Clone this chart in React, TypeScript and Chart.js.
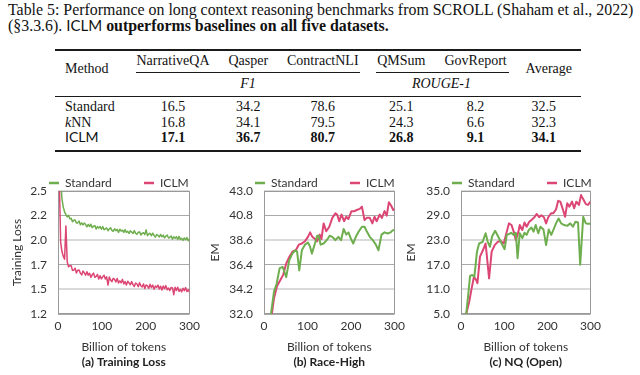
import React, { useEffect, useRef } from 'react';
import { Chart, registerables } from 'chart.js';

Chart.register(...registerables);

// ---------- Table data ----------
const TABLE_COLUMNS = ['NarrativeQA', 'Qasper', 'ContractNLI', 'QMSum', 'GovReport'];
const TABLE_METHODS = ['Standard', 'kNN', 'ICLM'];
const TABLE_STANDARD = [16.5, 34.2, 78.6, 25.1, 8.2, 32.5];
const TABLE_KNN = [16.8, 34.1, 79.5, 24.3, 6.6, 32.3];
const TABLE_ICLM = [17.1, 36.7, 80.7, 26.8, 9.1, 34.1];

// ---------- Chart data ----------
const SERIES_NAMES = ['Standard', 'ICLM'];

const LOSS_X = [
  3, 6, 9, 12, 15, 18, 21, 24, 27, 30,
  33, 36, 39, 42, 45, 48, 51, 54, 57, 60,
  63, 66, 69, 72, 75, 78, 81, 84, 87, 90,
  93, 96, 99, 102, 105, 108, 111, 114, 117, 120,
  123, 126, 129, 132, 135, 138, 141, 144, 147, 150,
  153, 156, 159, 162, 165, 168, 171, 174, 177, 180,
  183, 186, 189, 192, 195, 198, 201, 204, 207, 210,
  213, 216, 219, 222, 225, 228, 231, 234, 237, 240,
  243, 246, 249, 252, 255, 258, 261, 264, 267, 270,
  273, 276, 279, 282, 285, 288, 291, 294, 297, 300,
];
const LOSS_STANDARD = [
  2.95, 2.62, 2.42, 2.33, 2.28, 2.25, 2.226, 2.243, 2.206, 2.211,
  2.174, 2.191, 2.194, 2.161, 2.163, 2.182, 2.144, 2.163, 2.142, 2.161,
  2.145, 2.122, 2.146, 2.124, 2.149, 2.113, 2.128, 2.134, 2.098, 2.123,
  2.108, 2.124, 2.096, 2.125, 2.09, 2.101, 2.109, 2.08, 2.1, 2.111,
  2.084, 2.074, 2.101, 2.081, 2.094, 2.063, 2.096, 2.077, 2.085, 2.063,
  2.092, 2.062, 2.074, 2.052, 2.079, 2.067, 2.051, 2.081, 2.053, 2.043,
  2.064, 2.068, 2.034, 2.054, 2.059, 2.039, 2.089, 2.028, 2.047, 2.053,
  2.027, 2.054, 2.03, 2.013, 2.04, 2.031, 2.014, 2.041, 2.016, 2.034,
  2.004, 2.023, 2.035, 2.003, 2.01, 2.025, 1.991, 2.016, 2.0, 2.017,
  1.987, 2.02, 1.989, 2.0, 1.978, 2.004, 1.985, 2.007, 1.975, 1.993,
];
const LOSS_ICLM = [
  2.62, 1.96, 1.86, 1.81, 1.78, 2.13, 1.754, 1.7, 1.709, 1.711,
  1.661, 1.663, 1.684, 1.633, 1.662, 1.665, 1.632, 1.613, 1.654, 1.634,
  1.61, 1.647, 1.611, 1.63, 1.588, 1.614, 1.632, 1.588, 1.597, 1.618,
  1.57, 1.605, 1.571, 1.592, 1.61, 1.57, 1.592, 1.506, 1.591, 1.56,
  1.542, 1.577, 1.566, 1.539, 1.575, 1.528, 1.55, 1.53, 1.566, 1.518,
  1.543, 1.506, 1.547, 1.527, 1.509, 1.542, 1.51, 1.49, 1.528, 1.517,
  1.489, 1.531, 1.498, 1.485, 1.518, 1.469, 1.507, 1.497, 1.472, 1.515,
  1.48, 1.506, 1.463, 1.495, 1.482, 1.505, 1.464, 1.494, 1.453, 1.496,
  1.468, 1.5, 1.456, 1.475, 1.448, 1.481, 1.475, 1.404, 1.482, 1.448,
  1.483, 1.439, 1.46, 1.434, 1.472, 1.446, 1.479, 1.437, 1.458, 1.43,
];

const RACE_STANDARD_X = [16, 23, 29, 36, 43, 51, 58, 65, 72, 76, 81, 87, 94, 101, 106, 110, 117, 122, 126, 130, 137, 144, 151, 157, 164, 171, 177, 183, 189, 194, 199, 205, 211, 218, 225, 231, 236, 243, 250, 257, 263, 270, 277, 284, 291, 296, 300];
const RACE_STANDARD = [32.0, 34.0, 34.7, 36.1, 36.2, 35.3, 36.8, 37.4, 37.7, 37.6, 35.9, 37.7, 38.2, 38.4, 38.0, 37.4, 38.3, 39.0, 39.0, 38.2, 38.3, 38.6, 39.0, 38.9, 38.6, 38.9, 38.6, 39.6, 39.1, 39.3, 38.8, 38.3, 38.9, 39.4, 39.8, 39.8, 39.4, 38.9, 38.6, 38.2, 37.7, 39.1, 39.3, 39.2, 39.3, 39.5, 39.5];
const RACE_ICLM_X = [18, 23, 30, 37, 44, 51, 58, 66, 73, 80, 87, 94, 101, 106, 111, 117, 122, 128, 132, 137, 143, 150, 157, 164, 168, 173, 178, 184, 189, 194, 201, 208, 213, 220, 225, 231, 236, 243, 249, 254, 259, 266, 271, 277, 282, 287, 292, 297, 300];
const RACE_ICLM = [32.0, 33.4, 34.5, 35.0, 35.5, 36.5, 37.1, 37.6, 37.7, 38.2, 38.3, 38.5, 38.9, 39.3, 38.9, 38.7, 38.5, 39.1, 38.7, 40.1, 39.4, 39.8, 40.6, 41.0, 40.9, 40.3, 40.9, 40.3, 40.7, 40.5, 41.2, 41.2, 41.3, 41.4, 41.6, 40.4, 40.6, 40.6, 40.1, 40.7, 40.3, 40.9, 40.6, 41.2, 40.8, 42.0, 41.7, 41.3, 41.4];

const NQ_STANDARD_X = [12, 17, 21, 26, 31, 37, 42, 50, 57, 62, 67, 72, 79, 86, 94, 101, 106, 111, 116, 122, 127, 131, 136, 142, 147, 152, 157, 163, 168, 173, 179, 184, 191, 197, 203, 209, 214, 220, 226, 232, 239, 246, 253, 259, 265, 271, 276, 283, 289, 294, 300];
const NQ_STANDARD = [5.0, 10.0, 14.3, 14.5, 14.1, 20.2, 22.2, 22.6, 24.7, 22.6, 21.4, 23.9, 25.3, 23.9, 22.2, 20.8, 24.3, 24.5, 24.8, 24.3, 24.8, 18.6, 24.7, 23.5, 24.8, 24.3, 25.5, 26.1, 25.1, 26.7, 24.7, 26.3, 25.6, 21.8, 25.6, 24.3, 25.5, 27.1, 28.3, 27.1, 26.7, 26.5, 27.1, 26.3, 27.5, 27.3, 17.0, 28.7, 27.1, 27.0, 27.0];
const NQ_ICLM_X = [12, 19, 24, 30, 35, 38, 44, 51, 57, 65, 71, 78, 85, 92, 99, 104, 111, 117, 122, 127, 133, 136, 142, 147, 152, 158, 163, 170, 175, 181, 186, 192, 197, 202, 209, 214, 220, 225, 230, 236, 241, 246, 251, 257, 262, 267, 273, 278, 284, 289, 294, 300];
const NQ_ICLM = [5.0, 8.0, 10.9, 14.1, 13.3, 12.5, 19.0, 20.6, 22.2, 13.7, 20.2, 21.8, 22.6, 22.8, 22.2, 24.3, 27.1, 26.7, 25.1, 23.0, 25.1, 26.7, 25.5, 27.3, 26.3, 27.5, 27.9, 28.6, 29.4, 28.6, 29.1, 28.6, 27.1, 28.6, 29.6, 29.6, 30.5, 32.6, 32.4, 30.5, 28.7, 32.0, 31.2, 32.4, 30.8, 32.4, 31.6, 34.0, 32.8, 31.8, 31.6, 32.4];

const X_TITLE = 'Billion of tokens';

const GREEN = '#6fae4f';
const PINK = '#dc4674';
const CHART_FONT = 'Lato, "Open Sans", sans-serif';
const SERIF = '"Liberation Serif", "Times New Roman", serif';

const toPoints = (xs: number[], ys: number[]) => xs.map((x, i) => ({ x, y: ys[i] }));

const frameLegendPlugin = {
  id: 'frameLegend',
  beforeDatasetsDraw(chart: any) {
    const { ctx, chartArea: a } = chart;
    ctx.save();
    ctx.strokeStyle = '#9a9a9a';
    ctx.lineWidth = 1;
    ctx.strokeRect(Math.round(a.left) + 0.5, Math.round(a.top) + 0.5, Math.round(a.right - a.left) - 1, Math.round(a.bottom - a.top) - 1);
    ctx.restore();
  },
  afterDraw(chart: any) {
    const { ctx, chartArea: a } = chart;
    ctx.save();
    chart.data.datasets.forEach((ds: any, i: number) => {
      const x0 = a.left - 9 + i * 95;
      const y = a.top - 8;
      ctx.strokeStyle = ds.borderColor;
      ctx.lineWidth = 2.5;
      ctx.beginPath();
      ctx.moveTo(x0, y);
      ctx.lineTo(x0 + 10, y);
      ctx.stroke();
      ctx.fillStyle = '#333';
      ctx.font = '12px ' + CHART_FONT;
      ctx.textBaseline = 'middle';
      ctx.textAlign = 'left';
      ctx.fillText(ds.label, x0 + 16, y);
    });
    ctx.restore();
  },
};

type LineChartProps = {
  left: number;
  width: number;
  yMin: number;
  yMax: number;
  yStep: number;
  yTitle: string;
  yTitlePad: number;
  axisWidth: number;
  caption: string;
  lineWidth: number;
  series: { x: number[]; y: number[] }[];
};

function LineChart(p: LineChartProps) {
  const ref = useRef<HTMLCanvasElement>(null);
  useEffect(() => {
    let chart: Chart | null = null;
    let cancelled = false;
    const make = () => {
      if (cancelled || !ref.current) return;
      const colors = [GREEN, PINK];
      chart = new Chart(ref.current, {
        type: 'line',
        data: {
          datasets: p.series.map((s, i) => ({
            label: SERIES_NAMES[i],
            data: toPoints(s.x, s.y),
            borderColor: colors[i],
            backgroundColor: colors[i],
            borderWidth: p.lineWidth,
            pointRadius: 0,
            tension: 0,
            borderJoinStyle: 'round',
            fill: false,
          })),
        },
        options: {
          animation: false,
          responsive: false,
          devicePixelRatio: 1,
          layout: { padding: { top: 21, right: 4, bottom: 0, left: 0 } },
          plugins: {
            legend: { display: false },
            tooltip: { enabled: false },
            title: {
              display: true,
              text: p.caption,
              position: 'bottom',
              fullSize: false,
              color: '#222',
              font: { family: CHART_FONT, size: 12, weight: 'bold' },
              padding: { top: 0, bottom: 6 },
            },
          },
          scales: {
            x: {
              type: 'linear',
              min: 0,
              max: 300,
              ticks: { stepSize: 100, padding: 5, color: '#333', font: { family: CHART_FONT, size: 12 }, maxRotation: 0 },
              grid: { display: false, drawTicks: false },
              border: { display: false },
              title: { display: true, text: X_TITLE, color: '#333', font: { family: CHART_FONT, size: 12 }, padding: { top: 0, bottom: 0 } },
              afterFit: (scale: any) => { scale.height = 40.6; },
            },
            y: {
              type: 'linear',
              min: p.yMin,
              max: p.yMax,
              ticks: {
                stepSize: p.yStep,
                padding: 11,
                color: '#333',
                font: { family: CHART_FONT, size: 12 },
                callback: (v: any) => Number(v).toFixed(1),
              },
              grid: {
                drawTicks: false,
                color: (c: any) => (c.index % 2 === 1 ? '#dadada' : '#a9a9a9'),
                lineWidth: (c: any) => (c.index % 2 === 1 ? 2 : 1),
              },
              border: { display: false },
              title: { display: true, text: p.yTitle, color: '#333', font: { family: CHART_FONT, size: 12 }, padding: { top: p.yTitlePad, bottom: 0 } },
              afterFit: (scale: any) => { scale.width = p.axisWidth; },
            },
          },
        } as any,
        plugins: [frameLegendPlugin],
      });
    };
    const fonts: any = (document as any).fonts;
    if (fonts && fonts.load) {
      Promise.all([fonts.load('12px Lato'), fonts.load('bold 12px Lato')]).then(make, make);
    } else {
      make();
    }
    return () => {
      cancelled = true;
      if (chart) chart.destroy();
    };
  }, []);
  return (
    <canvas
      ref={ref}
      width={p.width}
      height={205}
      style={{ position: 'absolute', left: p.left, top: 170, width: p.width, height: 205 }}
    />
  );
}

// ---------- Text helpers ----------
type TProps = {
  x: number;
  baseline: number;
  size: number;
  align?: 'left' | 'center';
  sans?: boolean;
  bold?: boolean;
  italic?: boolean;
  children: React.ReactNode;
};

function T({ x, baseline, size, align = 'left', sans, bold, italic, children }: TProps) {
  const k = sans ? 0.887 : 0.8375;
  const style: React.CSSProperties = {
    position: 'absolute',
    top: baseline - k * size,
    fontSize: size,
    lineHeight: 1,
    fontFamily: sans ? CHART_FONT : SERIF,
    fontWeight: bold ? 'bold' : 'normal',
    fontStyle: italic ? 'italic' : 'normal',
    color: '#111',
    whiteSpace: 'nowrap',
  };
  if (align === 'center') {
    style.left = x - 100;
    style.width = 200;
    style.textAlign = 'center';
  } else {
    style.left = x;
  }
  return <div style={style}>{children}</div>;
}

function Rule({ x1, x2, y, h }: { x1: number; x2: number; y: number; h: number }) {
  return <div style={{ position: 'absolute', left: x1, top: y, width: x2 - x1, height: h, background: '#1a1a1a' }} />;
}

const COL_CENTERS = [173, 248.3, 322.8, 401.3, 475.6];
const NUM_CENTERS = [173, 248.3, 322.8, 401.3, 475.6, 543.7];
const ROW_BASELINES = [112, 127.3, 142.3];
const CAPTION_SIZE = 15.9;

function Table() {
  const rows = [TABLE_STANDARD, TABLE_KNN, TABLE_ICLM];
  return (
    <>
      <T x={8} baseline={15.7} size={CAPTION_SIZE}>
        Table 5: Performance on long context reasoning benchmarks from SCROLL (Shaham et al., 2022)
      </T>
      <div
        style={{
          position: 'absolute',
          left: 8,
          top: 31.8 - 0.8375 * CAPTION_SIZE,
          fontSize: CAPTION_SIZE,
          lineHeight: 1,
          fontFamily: SERIF,
          color: '#111',
          whiteSpace: 'nowrap',
        }}
      >
        (§3.3.6).{' '}
        <span style={{ fontFamily: CHART_FONT, fontSize: 15 }}>ICLM</span>{' '}
        <b>outperforms baselines on all five datasets.</b>
      </div>

      <Rule x1={55} x2={581} y={49} h={2} />
      <Rule x1={136} x2={360} y={72} h={1} />
      <Rule x1={376} x2={508.5} y={72} h={1} />
      <Rule x1={55} x2={581} y={96} h={1.3} />
      <Rule x1={55} x2={581} y={150} h={2} />

      <T x={65} baseline={73.5} size={14}>Method</T>
      {TABLE_COLUMNS.map((c, i) => (
        <T key={c} x={COL_CENTERS[i]} baseline={66} size={14} align="center">{c}</T>
      ))}
      <T x={548.8} baseline={73.5} size={14} align="center">Average</T>
      <T x={248} baseline={88.5} size={14} align="center" italic>F1</T>
      <T x={441.5} baseline={88.5} size={14} align="center" italic>ROUGE-1</T>

      {TABLE_METHODS.map((m, r) => (
        <React.Fragment key={m}>
          {m === 'kNN' ? (
            <T x={65} baseline={ROW_BASELINES[r]} size={14}>
              <i>k</i>NN
            </T>
          ) : m === 'ICLM' ? (
            <T x={65} baseline={ROW_BASELINES[r]} size={14} sans>{m}</T>
          ) : (
            <T x={65} baseline={ROW_BASELINES[r]} size={14}>{m}</T>
          )}
          {rows[r].map((v, c) => (
            <T key={c} x={NUM_CENTERS[c]} baseline={ROW_BASELINES[r]} size={14} align="center" bold={m === 'ICLM'}>
              {v.toFixed(1)}
            </T>
          ))}
        </React.Fragment>
      ))}
    </>
  );
}

export default function App() {
  useEffect(() => {
    document.body.style.margin = '0';
  }, []);
  return (
    <div style={{ position: 'absolute', left: 0, top: 0, width: 640, height: 375, background: '#fff', overflow: 'hidden' }}>
      <Table />
      <LineChart
        left={0}
        width={205}
        yMin={1.2}
        yMax={2.5}
        yStep={0.26}
        yTitle="Training Loss"
        yTitlePad={10}
        axisWidth={58}
        caption="(a) Training Loss"
        lineWidth={1.5}
        series={[{ x: LOSS_X, y: LOSS_STANDARD }, { x: LOSS_X, y: LOSS_ICLM }]}
      />
      <LineChart
        left={205}
        width={205}
        yMin={32}
        yMax={43}
        yStep={2.2}
        yTitle="EM"
        yTitlePad={3}
        axisWidth={59}
        caption="(b) Race-High"
        lineWidth={2}
        series={[{ x: RACE_STANDARD_X, y: RACE_STANDARD }, { x: RACE_ICLM_X, y: RACE_ICLM }]}
      />
      <LineChart
        left={400}
        width={206}
        yMin={5}
        yMax={35}
        yStep={6}
        yTitle="EM"
        yTitlePad={4}
        axisWidth={61}
        caption="(c) NQ (Open)"
        lineWidth={2}
        series={[{ x: NQ_STANDARD_X, y: NQ_STANDARD }, { x: NQ_ICLM_X, y: NQ_ICLM }]}
      />
    </div>
  );
}
